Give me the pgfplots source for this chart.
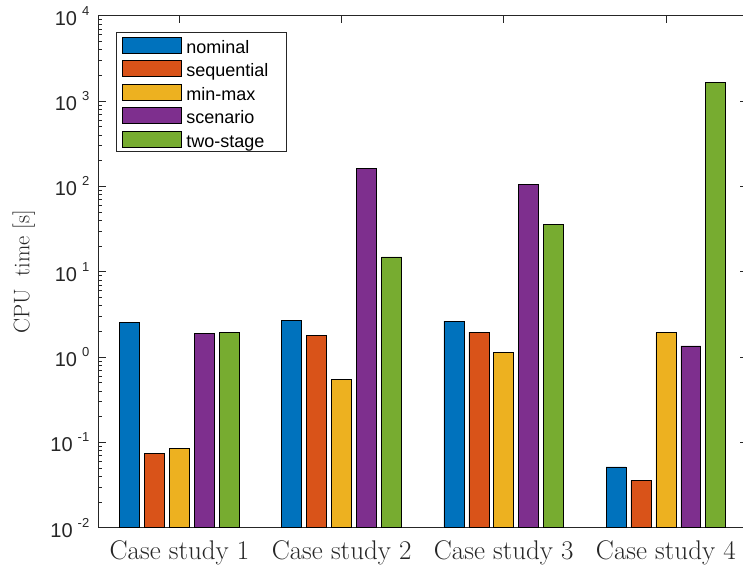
\documentclass[border=0pt]{standalone}
\usepackage{pgfplots}
\pgfplotsset{compat=1.18}
\usepackage{fontspec}
\newfontfamily\arial{Liberation Sans}
\definecolor{c1}{rgb}{0,0.447,0.741}
\definecolor{c2}{rgb}{0.850,0.325,0.098}
\definecolor{c3}{rgb}{0.929,0.694,0.125}
\definecolor{c4}{rgb}{0.494,0.184,0.556}
\definecolor{c5}{rgb}{0.466,0.674,0.188}
\definecolor{axc}{rgb}{0.15,0.15,0.15}
\newcommand{\lt}[1]{10\hspace{5bp}\raisebox{10bp}{\fontsize{13bp}{13bp}\selectfont #1}}
\newcommand{\legtxt}[1]{\makebox[94bp][l]{\rule[-4bp]{0pt}{22bp}#1}}
\begin{document}
\begin{tikzpicture}
\begin{axis}[
  at={(98.5bp,40.3bp)}, anchor=south west,
  scale only axis, width=648.4bp, height=512bp,
  ymode=log, ymin=1e-2, ymax=1e4, xmin=0.5, xmax=4.5,
  log origin=infty,
  ybar,
  xtick={1,2,3,4},
  xticklabels={Case study 1,Case study 2,Case study 3,Case study 4},
  xtick pos=both, ytick pos=left,
  ytick={1e-2,1e-1,1,1e1,1e2,1e3,1e4},
  yticklabels={\lt{-2},\lt{-1},\lt{0},\lt{1},\lt{2},\lt{3},\lt{4}},
  minor ytick={2e-2,3e-2,4e-2,5e-2,6e-2,7e-2,8e-2,9e-2,
               2e-1,3e-1,4e-1,5e-1,6e-1,7e-1,8e-1,9e-1,
               2,3,4,5,6,7,8,9,
               20,30,40,50,60,70,80,90,
               200,300,400,500,600,700,800,900,
               2000,3000,4000,5000,6000,7000,8000,9000},
  major tick length=7bp, minor tick length=3bp,
  tick align=inside,
  axis line style={axc, line width=0.6bp},
  every tick/.style={axc, line width=0.6bp},
  every minor tick/.style={axc, line width=0.6bp},
  xticklabel style={font=\fontsize{27bp}{27bp}\selectfont, text=axc, inner sep=0pt, yshift=-12.6bp},
  yticklabel style={font=\arial\fontsize{20bp}{20bp}\selectfont, text=axc, inner sep=0pt, xshift=-9bp},
  ylabel={CPU\hspace{0.55em}time [s]},
  ylabel style={font=\fontsize{22.5bp}{22.5bp}\selectfont, text=axc, at={(axis description cs:-0.1067,0.5)}, anchor=base, inner sep=0pt},
  legend image code/.code={\draw[#1, draw=black, line width=0.6bp] (0bp,-8bp) rectangle (59bp,8bp); \path (63.7bp,0bp);},
  legend style={at={(0.0265,0.9676)}, anchor=north west, draw=axc, line width=0.6bp,
    inner xsep=6bp, inner ysep=3bp, row sep=3.9bp,
    font=\arial\fontsize{18bp}{18bp}\selectfont, text=black,
    nodes={inner sep=0pt}, cells={anchor=west}},
]
\addplot[fill=c1, draw=black, line width=0.6bp, bar width=0.1231, bar shift=-0.3077] coordinates {(1,2.53) (2,2.69) (3,2.64) (4,0.0515)};
\addplot[fill=c2, draw=black, line width=0.6bp, bar width=0.1231, bar shift=-0.1538] coordinates {(1,0.0745) (2,1.78) (3,1.96) (4,0.0359)};
\addplot[fill=c3, draw=black, line width=0.6bp, bar width=0.1231, bar shift=0] coordinates {(1,0.0843) (2,0.543) (3,1.13) (4,1.95)};
\addplot[fill=c4, draw=black, line width=0.6bp, bar width=0.1231, bar shift=0.1538] coordinates {(1,1.88) (2,161) (3,104.7) (4,1.35)};
\addplot[fill=c5, draw=black, line width=0.6bp, bar width=0.1231, bar shift=0.3077] coordinates {(1,1.93) (2,14.9) (3,35.6) (4,1656)};
\legend{\legtxt{nominal},\legtxt{sequential},\legtxt{min-max},\legtxt{scenario},\legtxt{two-stage}}
\end{axis}
\begin{axis}[
  at={(98.5bp,40.3bp)}, anchor=south west,
  scale only axis, width=648.4bp, height=512bp,
  ymode=log, ymin=1e-2, ymax=1e4, xmin=0.5, xmax=4.5,
  hide x axis, axis y line*=right,
  ytick={1e-2,1e-1,1,1e1,1e2,1e3,1e4}, yticklabels={},
  minor ytick={}, 
  major tick length=7bp, tick align=inside,
  axis line style={axc, line width=0.6bp},
  every tick/.style={axc, line width=0.6bp},
]
\end{axis}
\pgfresetboundingbox
\path[use as bounding box] (0,0) rectangle (743bp,568bp);
\end{tikzpicture}
\end{document}
